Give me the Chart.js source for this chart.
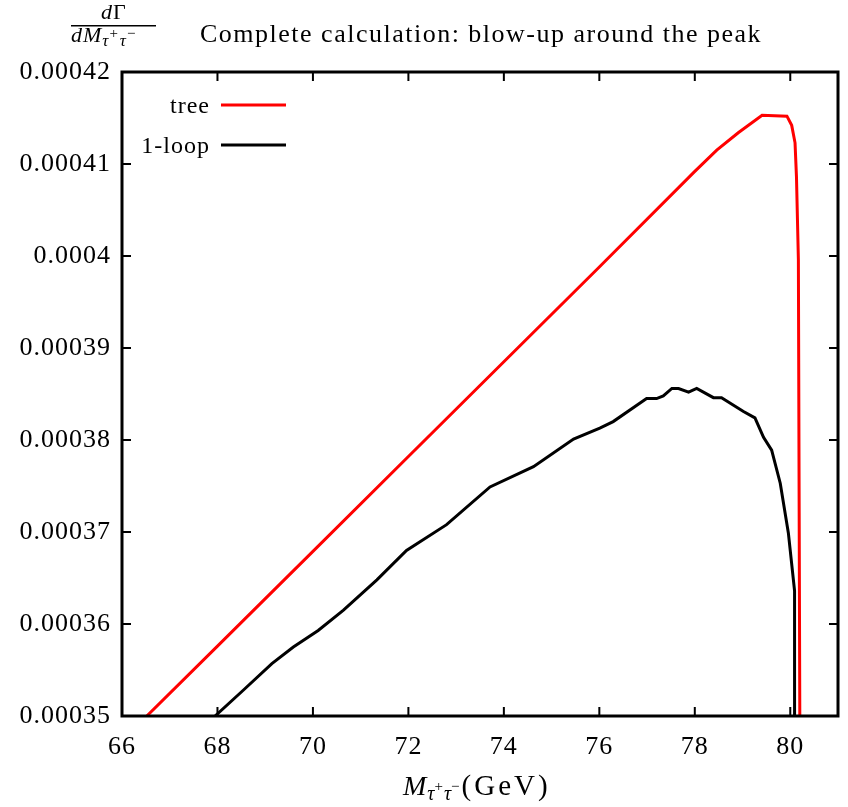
<!DOCTYPE html>
<html lang="en">
<head>
<meta charset="UTF-8">
<title>Complete calculation: blow-up around the peak</title>
<script src="https://cdn.jsdelivr.net/npm/chart.js@4.4.0/dist/chart.umd.min.js"></script>
<style>
    body { margin: 0; background: #fff; }
    #wrap { width: 848px; height: 807px; }
</style>
</head>
<body>
<div id="wrap"><canvas id="chart" width="848" height="807"></canvas></div>
<script>
    // values
    const treeMass = [66.52, 68.0, 70.0, 72.0, 74.0, 76.0, 78.0, 78.46, 78.91, 79.41, 79.93, 80.03, 80.1, 80.13, 80.17, 80.2];
    const treeRate = [0.00035, 0.0003576, 0.0003679, 0.0003782, 0.0003885, 0.0003988, 0.0004092, 0.0004115, 0.0004134, 0.0004153, 0.0004152, 0.0004142, 0.0004123, 0.0004086, 0.0003996, 0.00035];

    const loopMass = [67.95, 68.54, 69.14, 69.59, 70.11, 70.64, 71.34, 71.96, 72.8, 73.71, 74.62, 75.46, 76.01, 76.29, 76.99, 77.2, 77.34, 77.52, 77.66, 77.87, 78.04, 78.39, 78.56, 79.02, 79.26, 79.44, 79.61, 79.79, 79.96, 80.09, 80.09];
    const loopRate = [0.00035, 0.0003528, 0.0003557, 0.0003575, 0.0003593, 0.0003615, 0.0003648, 0.000368, 0.0003708, 0.0003749, 0.0003771, 0.0003801, 0.0003813, 0.000382, 0.0003845, 0.0003845, 0.0003848, 0.0003856, 0.0003856, 0.0003852, 0.0003856, 0.0003846, 0.0003846, 0.0003831, 0.0003824, 0.0003803, 0.0003789, 0.0003753, 0.0003699, 0.0003636, 0.00035];

    const xTicks = [66, 68, 70, 72, 74, 76, 78, 80];
    const yTicks = [0.00035, 0.00036, 0.00037, 0.00038, 0.00039, 0.0004, 0.00041, 0.00042];
    const yTickLabels = ['0.00035', '0.00036', '0.00037', '0.00038', '0.00039', '0.0004', '0.00041', '0.00042'];

    const serif = "'Liberation Serif', 'Times New Roman', serif";

    function toPoints(xs, ys) {
        return xs.map((x, i) => ({ x: x, y: ys[i] }));
    }

    // draw a row of text pieces (for sub/superscripts), each one after the other
    function drawRuns(ctx, x, y, runs) {
        runs.forEach(r => {
            ctx.font = r.font;
            ctx.letterSpacing = r.spacing || '0px';
            ctx.fillText(r.text, x, y + (r.dy || 0));
            x += ctx.measureText(r.text).width + (r.gap || 0);
        });
    }

    // the LaTeX font is wider than Times, spread the glyphs a little
    const spacingPlugin = {
        id: 'spacing',
        beforeDraw(chart) {
            chart.ctx.letterSpacing = '1px';
        }
    };

    // gnuplot look: closed frame, inward ticks on all four sides
    const framePlugin = {
        id: 'frame',
        afterDatasetsDraw(chart) {
            const ctx = chart.ctx;
            const a = chart.chartArea;
            const xs = chart.scales.x, ys = chart.scales.y;
            const len = 9;
            ctx.save();
            ctx.strokeStyle = '#000';
            ctx.lineWidth = 2;
            ctx.beginPath();
            xTicks.forEach(v => {
                const px = xs.getPixelForValue(v);
                ctx.moveTo(px, a.bottom); ctx.lineTo(px, a.bottom - len);
                ctx.moveTo(px, a.top); ctx.lineTo(px, a.top + len);
            });
            yTicks.forEach(v => {
                const py = ys.getPixelForValue(v);
                ctx.moveTo(a.left, py); ctx.lineTo(a.left + len, py);
                ctx.moveTo(a.right, py); ctx.lineTo(a.right - len, py);
            });
            ctx.stroke();
            ctx.lineWidth = 3;
            ctx.strokeRect(a.left, a.top, a.right - a.left, a.bottom - a.top);
            ctx.restore();
        }
    };

    // title, y label fraction, x label and key
    const textPlugin = {
        id: 'texts',
        afterDraw(chart) {
            const ctx = chart.ctx;
            ctx.save();
            ctx.fillStyle = '#000';
            ctx.textBaseline = 'alphabetic';
            ctx.textAlign = 'left';

            // title
            ctx.letterSpacing = '1.5px';
            ctx.font = '26px ' + serif;
            ctx.fillText('Complete calculation: blow-up around the peak', 200, 42);

            // dGamma / dM fraction
            drawRuns(ctx, 101, 19, [
                { text: 'd', font: 'italic 22px ' + serif, gap: 1 },
                { text: '\u0393', font: '22px ' + serif }
            ]);
            ctx.fillRect(71, 25, 85, 1.5);
            drawRuns(ctx, 71, 42, [
                { text: 'dM', font: 'italic 22px ' + serif, spacing: '1px' },
                { text: '\u03c4', font: 'italic 17px ' + serif, dy: 4, gap: 1 },
                { text: '+', font: '15px ' + serif, dy: -4, gap: 2 },
                { text: '\u03c4', font: 'italic 17px ' + serif, dy: 4, gap: 1 },
                { text: '\u2212', font: '15px ' + serif, dy: -4 }
            ]);

            // x label
            drawRuns(ctx, 403, 795, [
                { text: 'M', font: 'italic 28px ' + serif, spacing: '1px' },
                { text: '\u03c4', font: 'italic 20px ' + serif, dy: 5 },
                { text: '+', font: '15px ' + serif, dy: -4, gap: 1 },
                { text: '\u03c4', font: 'italic 20px ' + serif, dy: 5 },
                { text: '\u2212', font: '15px ' + serif, dy: -4, gap: 2 },
                { text: '(GeV)', font: '29px ' + serif, spacing: '3px' }
            ]);

            // key
            ctx.letterSpacing = '1px';
            ctx.font = '24px ' + serif;
            ctx.textAlign = 'right';
            ctx.fillText('tree', 210, 113);
            ctx.fillText('1-loop', 210, 153);
            ctx.lineWidth = 3;
            ctx.strokeStyle = '#ff0000';
            ctx.beginPath(); ctx.moveTo(221, 105); ctx.lineTo(286, 105); ctx.stroke();
            ctx.strokeStyle = '#000';
            ctx.beginPath(); ctx.moveTo(221, 145); ctx.lineTo(286, 145); ctx.stroke();
            ctx.restore();
        }
    };

    const ctx = document.getElementById('chart').getContext('2d');
    new Chart(ctx, {
        type: 'line',
        data: {
            datasets: [
                {
                    label: 'tree',
                    data: toPoints(treeMass, treeRate),
                    borderColor: '#ff0000',
                    borderWidth: 3,
                    pointRadius: 0,
                    tension: 0,
                    fill: false
                },
                {
                    label: '1-loop',
                    data: toPoints(loopMass, loopRate),
                    borderColor: '#000000',
                    borderWidth: 3,
                    pointRadius: 0,
                    tension: 0,
                    fill: false
                }
            ]
        },
        options: {
            responsive: false,
            animation: false,
            devicePixelRatio: 1,
            layout: { padding: { top: 72, right: 10, left: 0, bottom: 0 } },
            plugins: {
                legend: { display: false },
                tooltip: { enabled: false }
            },
            scales: {
                x: {
                    type: 'linear',
                    min: 66,
                    max: 81,
                    grid: { display: false, drawTicks: false },
                    border: { display: false },
                    afterBuildTicks: s => { s.ticks = xTicks.map(v => ({ value: v })); },
                    afterFit: s => { s.height = 91; },
                    ticks: {
                        padding: 16,
                        color: '#000',
                        font: { family: serif, size: 26 },
                        maxRotation: 0
                    }
                },
                y: {
                    type: 'linear',
                    min: 0.00035,
                    max: 0.00042,
                    grid: { display: false, drawTicks: false },
                    border: { display: false },
                    afterBuildTicks: s => { s.ticks = yTicks.map(v => ({ value: v })); },
                    afterFit: s => { s.width = 122; },
                    ticks: {
                        padding: 11,
                        color: '#000',
                        font: { family: serif, size: 26 },
                        callback: (v, i) => yTickLabels[i]
                    }
                }
            }
        },
        plugins: [spacingPlugin, framePlugin, textPlugin]
    });
</script>
</body>
</html>
